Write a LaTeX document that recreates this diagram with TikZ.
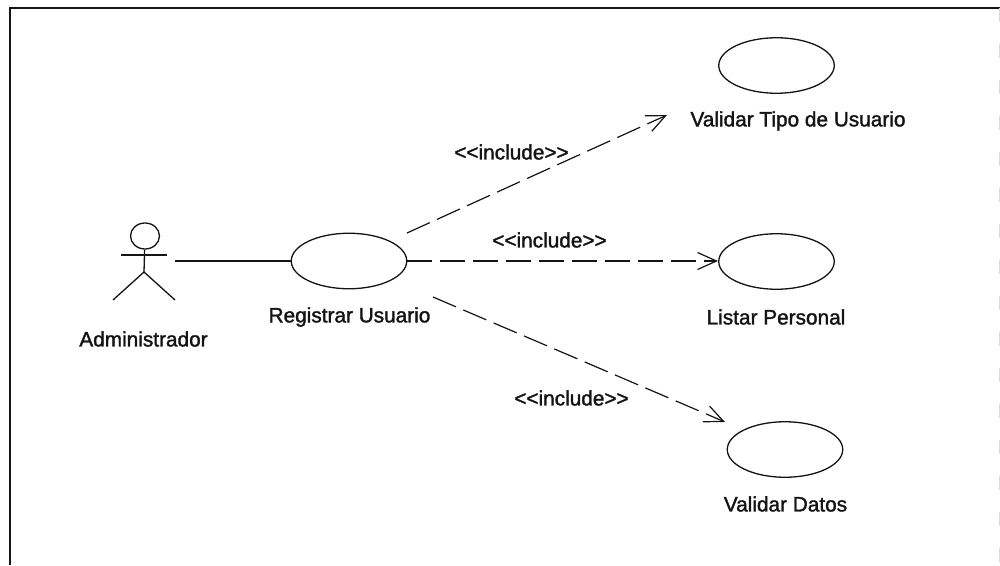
\documentclass[tikz,border=0pt]{standalone}
\usepackage{fontspec}
\setmainfont{Liberation Sans}[Ligatures=NoCommon]
\newfontfamily\labfont{Liberation Sans}[FakeBold=1.6]
\usetikzlibrary{arrows.meta,shapes.geometric}
\definecolor{ink}{HTML}{141414}
\tikzset{
  uc/.style={draw=ink,ellipse,line width=1.3pt,minimum width=115.5pt,minimum height=55.5pt,inner sep=0pt},
  lab/.style={font=\labfont\fontsize{20.8}{24}\selectfont,text=ink,inner sep=0pt},
  dep/.style={draw=ink,line width=1.2pt,dash pattern=on 25pt off 8pt,-{Straight Barb[length=19pt,width=17pt,line width=1.2pt]}},
  assoc/.style={draw=ink,line width=1.3pt},
  stick/.style={draw=ink,line width=1.3pt},
  frameline/.style={draw=ink,line width=2.6pt},
  faintline/.style={draw=black!15,line width=1pt,dash pattern=on 14pt off 22pt}
}
\begin{document}
\begin{tikzpicture}[x=1pt,y=-1pt]
\useasboundingbox (0,0) rectangle (1000,565);
\fill[white] (0,0) rectangle (1000,565);
\coordinate (fa) at (10,565);
\coordinate (fb) at (10,8);
\coordinate (fc) at (1000,8);
\coordinate (fd) at (999,8);
\coordinate (fe) at (999,565);
\draw[frameline] (fa) -- (fb) -- (fc);
\draw[faintline] (fd) -- (fe);
\node[uc] (reg) at (349,261) {};
\node[uc] (val) at (776.5,65.5) {};
\node[uc] (lis) at (776.5,261.5) {};
\node[uc] (dat) at (785,449.5) {};
\coordinate (regA) at (407,233);
\coordinate (regB) at (407,261);
\coordinate (regC) at (433,297);
\coordinate (valA) at (667,115);
\coordinate (lisA) at (718,261);
\coordinate (datA) at (725,422);
\coordinate (actR) at (175,261);
\draw[dep] (regA) -- (valA);
\draw[dep] (regB) -- (lisA);
\draw[dep] (regC) -- (datA);
\draw[assoc] (actR) -- (reg);
\node[draw=ink,ellipse,line width=1.3pt,minimum width=29pt,minimum height=26pt,inner sep=0pt] (head) at (145,236) {};
\coordinate (hip) at (144,272);
\coordinate (armL) at (121,255);
\coordinate (armR) at (167,255);
\coordinate (footL) at (113,300);
\coordinate (footR) at (175,300);
\draw[stick] (head) -- (hip);
\draw[stick] (armL) -- (armR);
\draw[stick] (footL) -- (hip) -- (footR);
\node[lab] (t1) at (143.5,339) {Administrador};
\node[lab] (t2) at (349.5,317) {Registrar Usuario};
\node[lab] (t3) at (798,121) {Validar Tipo de Usuario};
\node[lab] (t4) at (776,317) {Listar Personal};
\node[lab] (t5) at (785.5,504) {Validar Datos};
\node[lab] (i1) at (511.5,152) {<{}<{}include>{}>};
\node[lab] (i2) at (549.5,240) {<{}<{}include>{}>};
\node[lab] (i3) at (571.5,398) {<{}<{}include>{}>};
\end{tikzpicture}
\end{document}
